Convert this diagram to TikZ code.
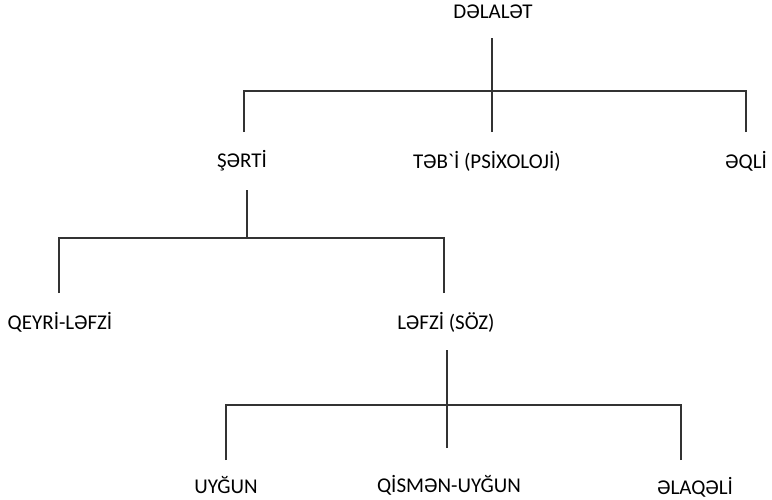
\documentclass[tikz,border=0pt]{standalone}
\usepackage{fontspec}
\setmainfont{Carlito}[Ligatures=TeXOff]
\usepackage{tikz}

\begin{document}
\begin{tikzpicture}[x=1pt, y=-1pt, branch/.style = {draw=black!80, line width=1.6pt}, term/.style = {inner sep=0pt, font=\fontsize{21}{25}\selectfont}]
      \useasboundingbox (0,0) rectangle (772,499);
      \node[term] (root) at (493,12) {DƏLALƏT};
      \node[term] (sarti) at (242,161) {ŞƏRTİ};
      \node[term] (tebii) at (487,161) {TƏB`İ (PSİXOLOJİ)};
      \node[term] (eqli) at (746,161) {ƏQLİ};
      \node[term] (qeyri) at (60,322) {QEYRİ-LƏFZİ};
      \node[term] (lefzi) at (446,322) {LƏFZİ (SÖZ)};
      \node[term] (uygun) at (226,485) {UYĞUN};
      \node[term] (qismen) at (449,485) {QİSMƏN-UYĞUN};
      \node[term] (elaqeli) at (695,487) {ƏLAQƏLİ};
      % junctions and free ends
      \coordinate (root-s) at (492,38);
      \coordinate (root-j) at (492,91);
      \coordinate (sarti-n) at (244,132);
      \coordinate (tebii-n) at (492,132);
      \coordinate (eqli-n) at (746,132);
      \coordinate (sarti-s) at (247,190);
      \coordinate (sarti-j) at (247,238);
      \coordinate (qeyri-n) at (59,293);
      \coordinate (lefzi-n) at (444,293);
      \coordinate (lefzi-s) at (447,350);
      \coordinate (lefzi-j) at (447,405);
      \coordinate (uygun-n) at (226,460);
      \coordinate (qismen-n) at (447,448);
      \coordinate (elaqeli-n) at (681,460);
      \draw[branch] (root-s) -- (root-j);
      \draw[branch] (sarti-n) |- (root-j);
      \draw[branch] (tebii-n) -- (root-j);
      \draw[branch] (eqli-n) |- (root-j);
      \draw[branch] (sarti-s) -- (sarti-j);
      \draw[branch] (qeyri-n) |- (sarti-j);
      \draw[branch] (lefzi-n) |- (sarti-j);
      \draw[branch] (lefzi-s) -- (lefzi-j);
      \draw[branch] (uygun-n) |- (lefzi-j);
      \draw[branch] (qismen-n) -- (lefzi-j);
      \draw[branch] (elaqeli-n) |- (lefzi-j);
    \end{tikzpicture}
\end{document}
